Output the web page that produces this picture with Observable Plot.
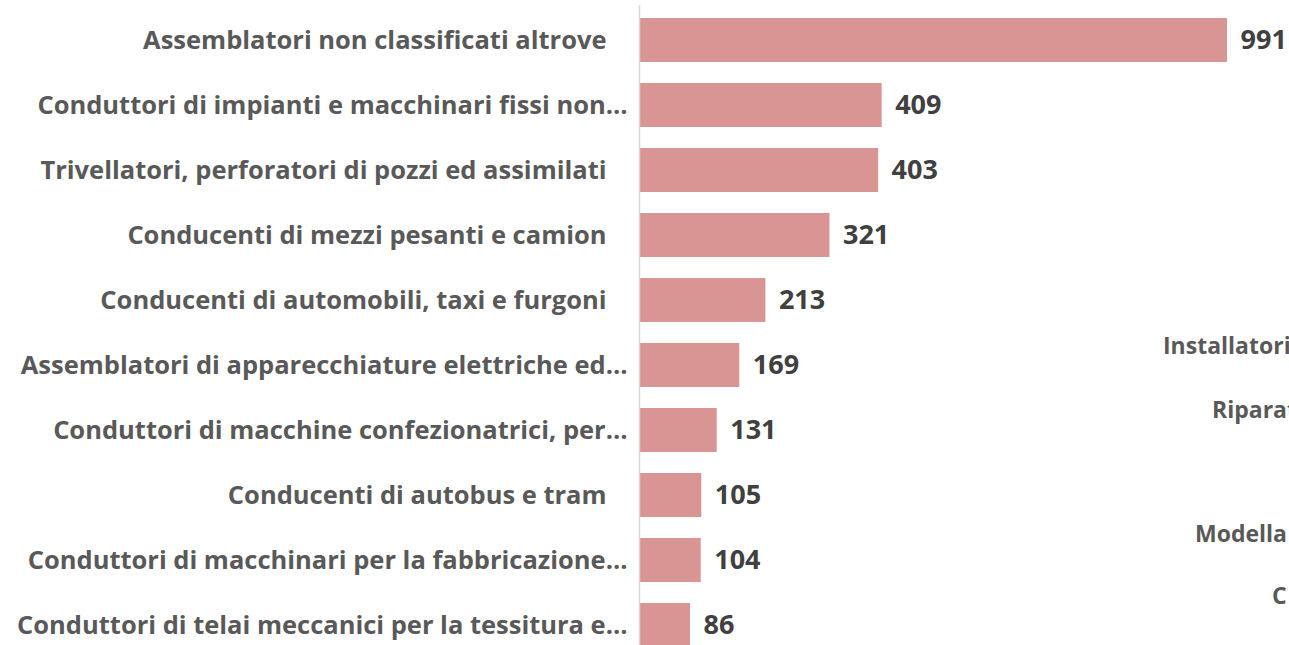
<!DOCTYPE html>
<html>
<head>
<meta charset="utf-8">
<script src="https://cdn.jsdelivr.net/npm/d3@7"></script>
<script src="https://cdn.jsdelivr.net/npm/@observablehq/plot@0.6"></script>
<style>
  html, body { margin: 0; padding: 0; background: #fff; overflow: hidden; width: 1289px; height: 645px; }
  #wrap { position: relative; width: 1289px; height: 645px; overflow: hidden; }
  .frag { position: absolute; font-family: "Open Sans", sans-serif; font-weight: 700; font-size: 23px; color: #595959; white-space: nowrap; transform: translateY(-50%); }
</style>
</head>
<body>
<div id="wrap"></div>
<script>
const categories = [
  "Assemblatori non classificati altrove",
  "Conduttori di impianti e macchinari fissi non…",
  "Trivellatori, perforatori di pozzi ed assimilati",
  "Conducenti di mezzi pesanti e camion",
  "Conducenti di automobili, taxi e furgoni",
  "Assemblatori di apparecchiature elettriche ed…",
  "Conduttori di macchine confezionatrici, per…",
  "Conducenti di autobus e tram",
  "Conduttori di macchinari per la fabbricazione…",
  "Conduttori di telai meccanici per la tessitura e…"
];
const values = [991, 409, 403, 321, 213, 169, 131, 105, 104, 86];
// fragments of a neighbouring chart, cut off at the right edge
const fragments = ["Installatori", "Riparat", "Modella", "C"];

const data = categories.map((c, i) => ({category: c, value: values[i], truncated: c.endsWith("…")}));

const font = "'Open Sans', sans-serif";
const chart = Plot.plot({
  width: 1289,
  height: 649,
  marginLeft: 639,
  marginRight: 62,
  marginTop: 15,
  marginBottom: 0,
  style: {fontFamily: font, background: "#fff", overflow: "visible"},
  x: {domain: [0, 991], axis: null},
  y: {domain: categories, paddingInner: 0.33, paddingOuter: 0, axis: null},
  marks: [
    Plot.barX(data, {x: "value", y: "category", fill: "#d99594"}),
    Plot.ruleX([0], {stroke: "#d9d9d9", strokeWidth: 1.5, insetTop: -10}),
    Plot.text(data.filter(d => d.truncated), {
      x: 0, y: "category", text: "category", textAnchor: "end", dx: -12,
      fontSize: 25.5, fontWeight: 700, fill: "#595959"
    }),
    Plot.text(data.filter(d => !d.truncated), {
      x: 0, y: "category", text: "category", textAnchor: "end", dx: -33,
      fontSize: 25.5, fontWeight: 700, fill: "#595959"
    }),
    Plot.text(data, {
      x: "value", y: "category", text: d => String(d.value), textAnchor: "start", dx: 13,
      fontSize: 27, fontWeight: 700, fill: "#404040"
    })
  ]
});
const wrap = document.getElementById("wrap");
wrap.appendChild(chart);

const fragPos = [[1163, 345], [1212, 409], [1195, 533], [1272, 595]];
fragments.forEach((t, i) => {
  const s = document.createElement("span");
  s.className = "frag";
  s.textContent = t;
  s.style.left = fragPos[i][0] + "px";
  s.style.top = fragPos[i][1] + "px";
  wrap.appendChild(s);
});
</script>
</body>
</html>
